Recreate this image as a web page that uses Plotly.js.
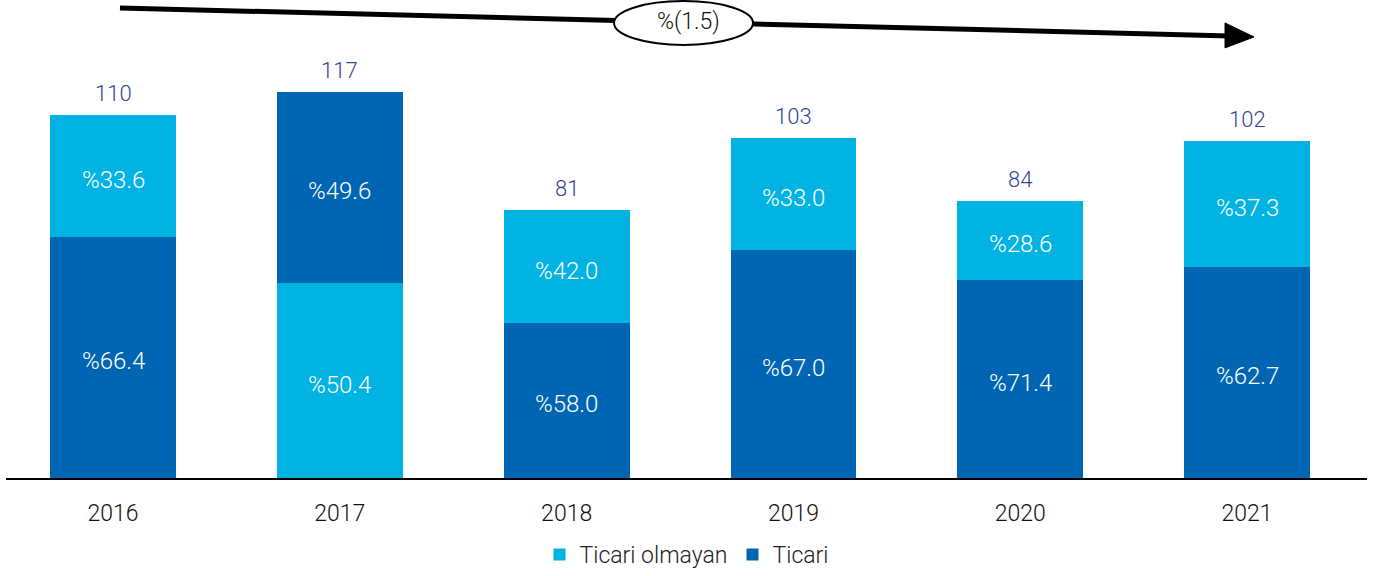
<!DOCTYPE html>
<html>
<head>
<meta charset="utf-8">
<script src="https://cdn.plot.ly/plotly-3.0.1.min.js"></script>
<style>html,body{margin:0;padding:0;background:#fff;}#chart{width:1379px;height:576px;}</style>
</head>
<body>
<div id="chart"></div>
<script>
// ---- data ----
const years = ["2016", "2017", "2018", "2019", "2020", "2021"];
const totals = [110, 117, 81, 103, 84, 102];
const ticariPct = [66.4, 49.6, 58.0, 67.0, 71.4, 62.7];
const ticariOlmayanPct = [33.6, 50.4, 42.0, 33.0, 28.6, 37.3];
// in the source, 2017 shows the Ticari segment stacked on top
const ticariOnTop = [false, true, false, false, false, false];
const changeLabel = "%(1.5)";
const seriesNames = ["Ticari olmayan", "Ticari"];

const LIGHT = "#00b3e3", DARK = "#0066b3";
const FONT = "Roboto, Liberation Sans, Arial, sans-serif";

const ticariVals = totals.map((t, i) => t * ticariPct[i] / 100);
const olmayanVals = totals.map((t, i) => t * ticariOlmayanPct[i] / 100);
const fmt = v => "%" + v.toFixed(1);

const traceTicariBottom = {
  type: "bar", name: seriesNames[1], x: years,
  y: ticariVals.map((v, i) => ticariOnTop[i] ? null : v),
  marker: {color: DARK}, legendrank: 2, legendgroup: "t"
};
const traceOlmayan = {
  type: "bar", name: seriesNames[0], x: years, y: olmayanVals,
  marker: {color: LIGHT}, legendrank: 1
};
const traceTicariTop = {
  type: "bar", name: seriesNames[1], x: years,
  y: ticariVals.map((v, i) => ticariOnTop[i] ? v : null),
  marker: {color: DARK}, showlegend: false, legendgroup: "t"
};
[traceTicariBottom, traceOlmayan, traceTicariTop].forEach(t => {
  t.hoverinfo = "skip";
  t.width = 0.555;
});

// pixel -> paper helpers (plot area: x 6..1367, y 0..479)
const L = 6, R = 12, T = 0, B = 97, W = 1379, H = 576;
const PW = W - L - R, PH = H - T - B;
const px = x => (x - L) / PW;
const py = y => (H - B - y) / PH;

const annotations = [];
years.forEach((yr, i) => {
  // total above bar
  annotations.push({
    x: i, y: totals[i], xref: "x", yref: "y",
    text: String(totals[i]), showarrow: false,
    yanchor: "bottom", yshift: 7,
    font: {family: FONT, size: 22, weight: 300, color: "#34478f"}
  });
  // segment labels (bottom and top segment)
  const bottomVal = ticariOnTop[i] ? olmayanVals[i] : ticariVals[i];
  const topVal = ticariOnTop[i] ? ticariVals[i] : olmayanVals[i];
  const bottomPct = ticariOnTop[i] ? ticariOlmayanPct[i] : ticariPct[i];
  const topPct = ticariOnTop[i] ? ticariPct[i] : ticariOlmayanPct[i];
  [[bottomVal / 2, bottomPct], [bottomVal + topVal / 2, topPct]].forEach(([yv, p]) => {
    annotations.push({
      x: i, y: yv, xref: "x", yref: "y", text: fmt(p), showarrow: false,
      xanchor: "center", yanchor: "middle", yshift: -4,
      font: {family: FONT, size: 24, weight: 300, color: "#ffffff"}
    });
  });
});
annotations.push({
  x: px(688), y: py(22), xref: "paper", yref: "paper",
  text: changeLabel, showarrow: false,
  xanchor: "center", yanchor: "middle",
  font: {family: FONT, size: 23, weight: 300, color: "#111"}
});

const shapes = [
  {type: "line", xref: "paper", yref: "paper",
   x0: px(120), y0: py(8), x1: px(1230), y1: py(36),
   line: {color: "#000", width: 5}},
  {type: "path", xref: "paper", yref: "paper",
   path: `M ${px(1225)} ${py(23)} L ${px(1254)} ${py(37)} L ${px(1225)} ${py(48)} Z`,
   fillcolor: "#000", line: {color: "#000", width: 1}},
  {type: "circle", xref: "paper", yref: "paper",
   x0: px(614), x1: px(753), y0: py(45), y1: py(1),
   fillcolor: "#fff", line: {color: "#000", width: 2}}
];

const layout = {
  width: W, height: H,
  margin: {l: L, r: R, t: T, b: B, pad: 0},
  paper_bgcolor: "#fff", plot_bgcolor: "#fff",
  barmode: "stack",
  showlegend: true,
  legend: {orientation: "h", x: 0.5, xanchor: "center", y: py(556), yanchor: "middle",
           font: {family: FONT, size: 23, weight: 300, color: "#222"}, itemwidth: 30},
  xaxis: {type: "category", range: [-0.472, 5.529], showgrid: false, zeroline: false,
          showline: true, linecolor: "#000", linewidth: 2, ticks: "",
          ticklabelstandoff: 13,
          tickfont: {family: FONT, size: 23, weight: 300, color: "#111"}, fixedrange: true},
  yaxis: {visible: false, range: [0, PH / 3.31], showgrid: false, zeroline: false, fixedrange: true},
  annotations: annotations,
  shapes: shapes
};

Plotly.newPlot("chart", [traceTicariBottom, traceOlmayan, traceTicariTop], layout,
  {displayModeBar: false, staticPlot: true});
</script>
</body>
</html>
